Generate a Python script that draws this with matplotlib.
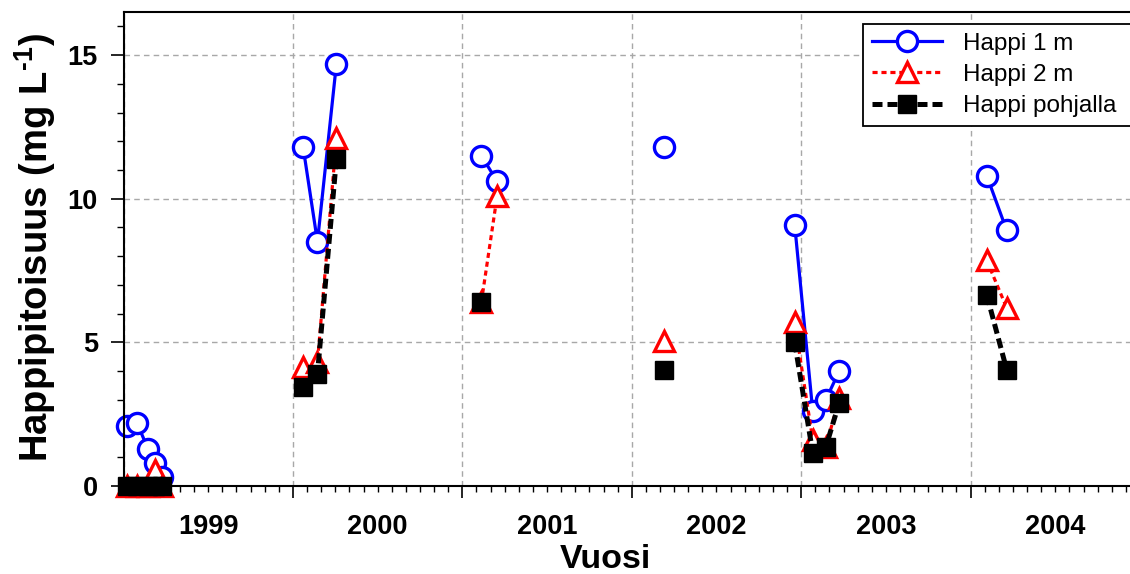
import matplotlib
matplotlib.use("Agg")
import matplotlib.pyplot as plt
import numpy as np
import pandas as pd
from matplotlib.ticker import MultipleLocator, NullFormatter

plt.rcParams['font.family'] = ['Liberation Sans', 'DejaVu Sans']
plt.rcParams['mathtext.fontset'] = 'custom'
plt.rcParams['mathtext.rm'] = 'Liberation Sans:bold'
plt.rcParams['mathtext.bf'] = 'Liberation Sans:bold'

# ---- data ----
dates = ['1999-01-08', '1999-01-30', '1999-02-23', '1999-03-09', '1999-03-24',
         '2000-01-23', '2000-02-23', '2000-04-04',
         '2001-02-11', '2001-03-17',
         '2002-03-12',
         '2002-12-18', '2003-01-26', '2003-02-23', '2003-03-24',
         '2004-02-05', '2004-03-19']
campaign = [1999] * 5 + [2000] * 3 + [2001] * 2 + [2002] + [2003] * 4 + [2004] * 2
happi_1m = [2.1, 2.2, 1.28, 0.8, 0.32,
            11.8, 8.5, 14.7,
            11.5, 10.6,
            11.8,
            9.1, 2.6, 3.0, 4.0,
            10.8, 8.9]
happi_2m = [0.0, 0.0, 0.0, 0.55, 0.0,
            4.15, 4.3, 12.1,
            6.4, 10.1,
            5.05,
            5.7, 1.6, 1.35, 3.05,
            7.85, 6.2]
happi_pohja = [0.0, 0.0, 0.0, 0.0, 0.0,
               3.45, 3.9, 11.4,
               6.4, np.nan,
               4.05,
               5.0, 1.15, 1.35, 2.9,
               6.65, 4.05]
series_labels = ['Happi 1 m', 'Happi 2 m', 'Happi pohjalla']
year_labels = ['1999', '2000', '2001', '2002', '2003', '2004']

# ---- convert dates to decimal years ----
dt = pd.to_datetime(dates)
days_in_year = np.where(dt.is_leap_year, 366, 365)
t = dt.year + (dt.dayofyear - 1) / days_in_year
t = np.asarray(t, dtype=float)
campaign = np.asarray(campaign)

fig = plt.figure(figsize=(11.3, 5.74), dpi=100)
ax = fig.add_axes([123.5 / 1130, 88 / 574, 1016.5 / 1130, 474 / 574])

styles = [
    dict(color='#0000ff', ls='-', lw=2.3, marker='o', ms=14.5, mfc='white',
         mec='#0000ff', mew=2.4),
    dict(color='#ff0000', ls=(0, (1.6, 1.2)), lw=2.3, marker='^', ms=14,
         mfc='white', mec='#ff0000', mew=2.4),
    dict(color='black', ls=(0, (2, 1)), lw=3.6, marker='s', ms=12.5,
         mfc='black', mec='black', mew=1),
]
series = [happi_1m, happi_2m, happi_pohja]

handles = []
for vals, st, lab in zip(series, styles, series_labels):
    vals = np.asarray(vals, dtype=float)
    first = None
    for c in np.unique(campaign):
        m = campaign == c
        ln, = ax.plot(t[m], vals[m], clip_on=False, **st)
        if first is None:
            first = ln
    first.set_label(lab)
    handles.append(first)

ax.set_xlim(1999, 2005)
ax.set_ylim(0, 16.5)

ax.xaxis.set_major_locator(MultipleLocator(1))
ax.xaxis.set_minor_locator(MultipleLocator(1 / 12))
ax.xaxis.set_major_formatter(NullFormatter())
ax.yaxis.set_major_locator(MultipleLocator(5))
ax.yaxis.set_minor_locator(MultipleLocator(1))

ax.tick_params(axis='x', which='major', direction='out', length=8.5, width=1.2)
ax.tick_params(axis='x', which='minor', direction='out', length=4.5, width=1)
ax.tick_params(axis='y', which='major', direction='out', length=9.5, width=1.2,
               labelsize=19.5, pad=9)
ax.tick_params(axis='y', which='minor', direction='out', length=5, width=1)
for lbl in ax.get_yticklabels():
    lbl.set_fontweight('bold')

ax.grid(True, which='major', color='#a8a8a8', linestyle=(0, (4, 3)), linewidth=1)
ax.set_axisbelow(True)

for sp in ax.spines.values():
    sp.set_linewidth(1.5)

for i, yl in enumerate(year_labels):
    ax.annotate(yl, xy=(1999 + i + 0.5, 0), xycoords=('data', 'axes fraction'),
                xytext=(0, -29.5), textcoords='offset points', ha='center',
                va='center', fontsize=19.5, fontweight='bold', annotation_clip=False)

fig.text(605 / 1130, 1 - 560 / 574, 'Vuosi', ha='center', va='center',
         fontsize=24.5, fontweight='bold')
fig.text(35 / 1130, 1 - 248 / 574, r'Happipitoisuus (mg L$^{\text{-1}}$)',
         ha='center', va='center', rotation=90, fontsize=27.5, fontweight='bold')

leg = ax.legend(handles=handles, loc='upper left',
                bbox_to_anchor=(0.7275, 0.0, 0.32, 0.9747), mode='expand',
                borderaxespad=0, fontsize=17.5, frameon=True, fancybox=False,
                edgecolor='black', framealpha=1, handlelength=2.9,
                handletextpad=0.85, labelspacing=0.39, borderpad=0.35, numpoints=1)
leg.get_frame().set_linewidth(1.3)

fig.savefig('out.png', dpi=100)
